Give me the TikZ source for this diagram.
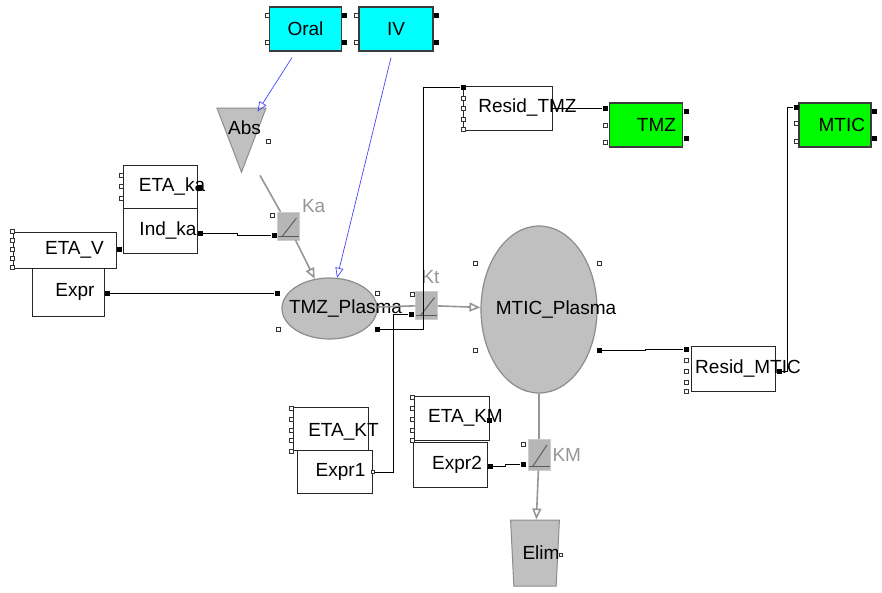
\documentclass[tikz,border=0pt]{standalone}
\usepackage{fontspec}
\setmainfont{Liberation Sans}
\definecolor{dosecyan}{RGB}{0, 255, 255}
\definecolor{obsgreen}{RGB}{0, 250, 0}
\definecolor{edgegray}{RGB}{60, 60, 60}
\definecolor{compgray}{RGB}{192, 192, 192}
\definecolor{flowgray}{RGB}{150, 150, 150}
\definecolor{sqgray}{RGB}{182, 182, 182}
\definecolor{doseblue}{RGB}{70, 70, 255}
\usetikzlibrary{arrows.meta, shapes.geometric}
\tikzset{
	txt/.style={font=\fontsize{19}{21}\selectfont},
	tag/.style={txt, inner sep=0pt},
	dosebox/.style={rectangle, draw=edgegray, fill=dosecyan, line width=1.2pt, minimum width=72pt, minimum height=44pt, txt},
	obsbox/.style={rectangle, draw=edgegray, fill=obsgreen, line width=1.2pt, minimum width=73pt, minimum height=44pt, txt, align=right, text width=60pt, inner xsep=6pt},
	statbox/.style={rectangle, draw=black!85, fill=white, line width=0.8pt, minimum width=75pt, minimum height=44pt},
	compart/.style={ellipse, draw=black!45, fill=compgray, line width=1.2pt},
	absorb/.style={isosceles triangle, isosceles triangle stretches, shape border rotate=270, minimum width=49pt, minimum height=64pt, inner sep=0pt, draw=black!45, fill=compgray, line width=1pt},
	sink/.style={trapezium, trapezium stretches=true, trapezium left angle=80, trapezium right angle=80, shape border rotate=180, minimum width=49pt, minimum height=66pt, inner sep=2pt, draw=black!45, fill=compgray, line width=1pt, txt},
	flowsq/.style={rectangle, fill=sqgray, draw=sqgray!70!white, line width=0.6pt, minimum width=22pt, minimum height=28pt, inner sep=0pt,
		path picture={
			\draw[black!65, line width=0.9pt] ([shift={(5pt,4pt)}]path picture bounding box.south west) -- ([shift={(-3pt,-6pt)}]path picture bounding box.north east);
			\draw[black!65, line width=0.9pt] ([yshift=4pt]path picture bounding box.south west) -- ([yshift=4pt]path picture bounding box.south east);
		}},
	flowlabel/.style={txt, text=flowgray, inner sep=2pt},
	port/.style={rectangle, draw=black!80, fill=white, line width=0.6pt, minimum size=4pt, inner sep=0pt},
	pin/.style={rectangle, fill=black, minimum size=5pt, inner sep=0pt},
	wire/.style={draw=black, line width=0.8pt},
	flowline/.style={draw=flowgray, line width=1.6pt},
	flowarrow/.style={flowline, -{Triangle[open, length=11pt, width=9pt]}},
	doseline/.style={draw=doseblue, line width=0.7pt, -{Triangle[open, length=10pt, width=8pt]}},
}

\begin{document}
\begin{tikzpicture}[x=1pt, y=-1pt]
		\useasboundingbox (0,0) rectangle (882,592);
		% doses
		\node[dosebox] (oral) at (305.5,29) {Oral};
		\node[dosebox, minimum width=74pt] (iv) at (396,29) {IV};
		\foreach \py [count=\i] in {15,42} {
			\node[port] (oral-p\i) at (267,\py) {};
			\node[pin] (oral-o\i) at (344,\py) {};
			\node[port] (iv-p\i) at (356,\py) {};
			\node[pin] (iv-o\i) at (436,\py) {};
		}
		% compartments
		\node[absorb, label={[tag, xshift=3pt, yshift=-3pt]center:Abs}] (abs) at (241.5,125) {};
		\node[port] (abs-p) at (268,141) {};
		\node[compart, minimum width=95pt, minimum height=61pt, label={[tag, xshift=16pt]center:TMZ\_Plasma}] (tmzp) at (329.5,308.5) {};
		\node[compart, minimum width=116pt, minimum height=167pt, label={[tag, xshift=17pt]center:MTIC\_Plasma}] (mticp) at (539,309.5) {};
		\node[sink] (elim) at (535,553) {\hspace*{6pt}Elim\hspace*{-6pt}};
		\node[port, minimum size=3pt] (elim-p) at (561,555) {};
		\node[port] (tmzp-p1) at (377,293) {};
		\node[port] (tmzp-p2) at (278,329) {};
		\node[pin] (tmzp-i) at (277,293) {};
		\node[pin] (tmzp-o) at (377,329) {};
		\node[port] (mticp-p1) at (475,263) {};
		\node[port] (mticp-p2) at (599,263) {};
		\node[port] (mticp-p3) at (475,350) {};
		\node[pin] (mticp-o) at (599,350) {};
		% rate constants
		\node[flowsq, label={[flowlabel]45:Ka}] (ka) at (288.5,226) {};
		\node[flowsq, label={[flowlabel, label distance=5pt, xshift=4pt]above:Kt}] (kt) at (426.5,305.5) {};
		\node[flowsq, minimum height=31pt, label={[flowlabel]right:KM}] (km) at (539,454.5) {};
		\node[port] (ka-p) at (272,215) {};
		\node[pin] (ka-i) at (274,235) {};
		\node[port] (kt-p) at (412,294) {};
		\node[pin] (kt-i) at (411,314) {};
		\node[port] (km-p) at (523,444) {};
		\node[pin] (km-i) at (523,464) {};
		% covariate and random effect blocks
		\node[statbox, minimum width=74pt, minimum height=43pt, label={[tag, xshift=12pt]center:ETA\_ka}] (etaka) at (160,186.5) {};
		\node[statbox, minimum width=74pt, minimum height=45pt, label={[tag, xshift=8pt]center:Ind\_ka}] (indka) at (160,230.5) {};
		\foreach \py [count=\i] in {175,186,198} \node[port] (etaka-p\i) at (121,\py) {};
		\node[pin] (etaka-o) at (199,188) {};
		\node[pin] (indka-o) at (200,233) {};
		\node[statbox, minimum width=103pt, minimum height=36pt, label={[tag, xshift=10pt]center:ETA\_V}] (etav) at (64.5,250) {};
		\node[statbox, minimum width=72pt, minimum height=48pt, label={[tag, xshift=7pt]center:Expr}] (expr) at (68,292) {};
		\foreach \py [count=\i] in {231,240,249,258,267} \node[port] (etav-p\i) at (12,\py) {};
		\node[pin] (etav-o) at (119,249) {};
		\node[pin] (expr-o) at (107,293) {};
		\node[statbox, minimum height=43pt, label={[tag, xshift=13pt, yshift=-3pt]center:ETA\_KT}] (etakt) at (330.5,428.5) {};
		\node[statbox, minimum height=43pt, label={[tag, xshift=6pt]center:Expr1}] (expr1) at (334.5,471.5) {};
		\foreach \py [count=\i] in {408,419,430,440,451} \node[port] (etakt-p\i) at (291,\py) {};
		\node[port, minimum size=3pt] (expr1-o) at (373,472) {};
		\node[statbox, minimum height=44pt, label={[tag, xshift=14pt]center:ETA\_KM}] (etakm) at (451.5,418) {};
		\node[statbox, minimum width=74pt, minimum height=45pt, label={[tag, xshift=7pt]center:Expr2}] (expr2) at (450,464.5) {};
		\foreach \py [count=\i] in {397,408,419,430,440} \node[port] (etakm-p\i) at (412,\py) {};
		\node[pin] (etakm-o) at (489,420) {};
		\node[pin] (expr2-o) at (490,466) {};
		% residuals and observations
		\node[statbox, minimum width=89pt, label={[tag, xshift=20pt]center:Resid\_TMZ}] (residtmz) at (507.5,108) {};
		\node[pin] (residtmz-i) at (463,87) {};
		\foreach \py [count=\i] in {98,108,119,129} \node[port] (residtmz-p\i) at (463,\py) {};
		\node[obsbox] (tmz) at (646,125) {TMZ};
		\node[pin] (tmz-i) at (605,108) {};
		\node[port] (tmz-p1) at (605,125) {};
		\node[port] (tmz-p2) at (605,142) {};
		\node[pin] (tmz-o1) at (686,111) {};
		\node[pin] (tmz-o2) at (686,138) {};
		\node[obsbox, minimum width=72pt] (mtic) at (835,125) {MTIC};
		\node[pin] (mtic-i) at (796,107) {};
		\node[port] (mtic-p1) at (796,123) {};
		\node[port] (mtic-p2) at (796,141) {};
		\node[pin] (mtic-o1) at (874,111) {};
		\node[pin] (mtic-o2) at (874,138) {};
		\node[statbox, minimum width=84pt, minimum height=45pt, label={[tag, xshift=15pt]center:Resid\_MTIC}] (residmtic) at (733,368.5) {};
		\node[pin] (residmtic-i) at (686,349) {};
		\foreach \py [count=\i] in {360,371,382,391} \node[port] (residmtic-p\i) at (686,\py) {};
		\node[pin] (residmtic-o) at (779,371) {};
		% dosing
		\draw[doseline] ([xshift=-13.5pt, yshift=-6pt]oral.south) -- ([xshift=16pt, yshift=-4pt]abs.north);
		\draw[doseline] ([xshift=-5pt, yshift=-6pt]iv.south) -- (tmzp);
		% mass flow
		\draw[flowline] ([xshift=18.5pt, yshift=-2pt]abs.apex) -- (ka);
		\draw[flowarrow] (ka) -- (tmzp);
		\draw[flowline] (tmzp) -- (kt);
		\draw[flowarrow] (kt) -- (mticp);
		\draw[flowline] (mticp) -- (km);
		\draw[flowarrow] (km) -- (elim);
		% signal wires
		\draw[wire] (indka-o) -- ++(37,0) |- (ka-i);
		\draw[wire] (expr-o) -- (tmzp-i);
		\draw[wire] (tmzp-o) -- ++(46,0) |- (residtmz-i);
		\draw[wire] (expr1-o) -- ++(20,0) |- (kt-i);
		\draw[wire] (expr2-o) -- ++(15,0) |- (km-i);
		\draw[wire] (residtmz.east) -- (tmz-i);
		\draw[wire] (mticp-o) -- ++(46,0) |- (residmtic-i);
		\draw[wire] (residmtic-o) -- ++(8,0) |- (mtic-i);
	\end{tikzpicture}
\end{document}
